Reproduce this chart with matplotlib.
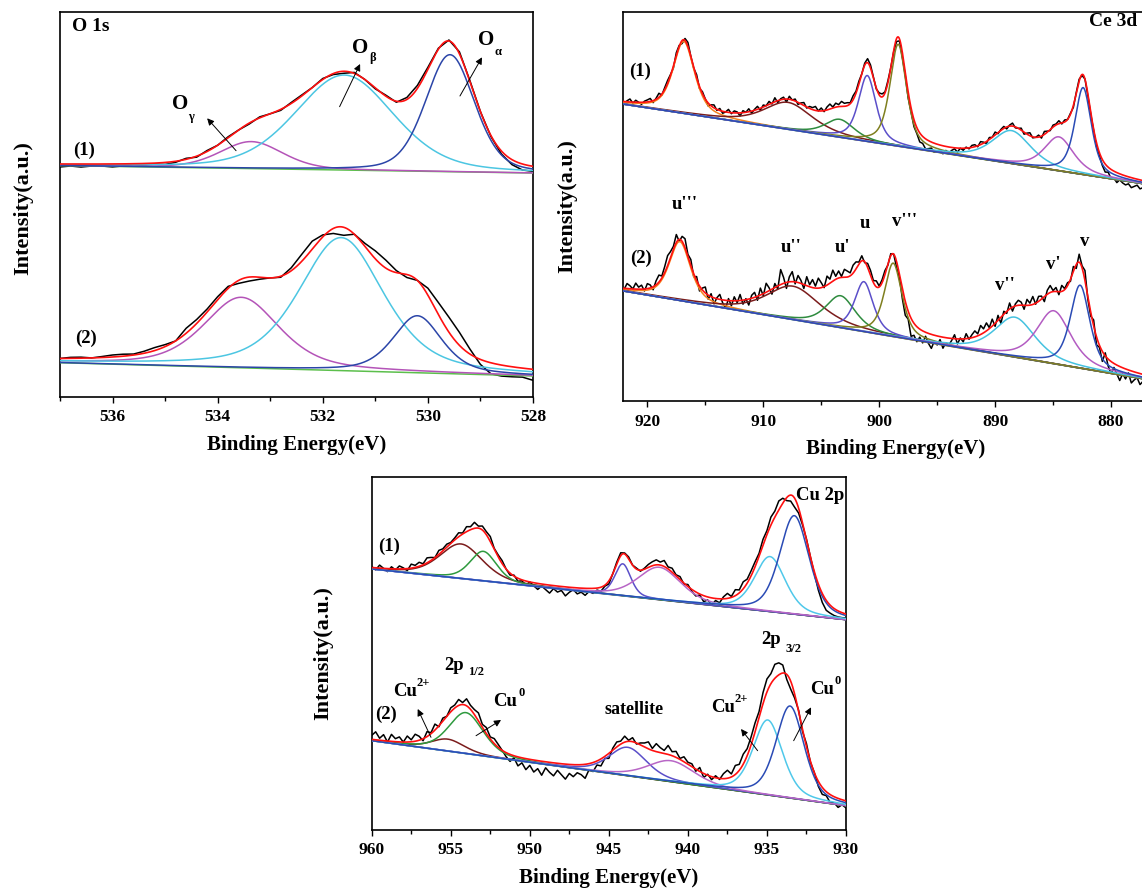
import numpy as np
import matplotlib
matplotlib.use('Agg')
import matplotlib.pyplot as plt

plt.rcParams['font.family'] = ['Liberation Serif', 'DejaVu Serif']
plt.rcParams['font.weight'] = 'bold'
plt.rcParams['axes.labelweight'] = 'bold'

# ---------------- O 1s ----------------
o1_lim = (537.0, 528.0)
o1_base1 = (231.4, 224.0)      # baseline at 537 and 528 eV
o1_base2 = (34.3, 21.0)
o1_names = ['O_gamma', 'O_beta', 'O_alpha']
o1_pos1 = [533.36, 531.59, 529.58]
o1_h1 = [27, 95, 117]
o1_fw1 = [1.4, 2.2, 1.1]
o1_pos2 = [533.55, 531.65, 530.20]
o1_h2 = [70.5, 133, 57]
o1_fw2 = [1.7, 1.9, 1.1]
o1_step = 0.2
o1_res1 = [-3, -2, -3, -2, -2, -3, -2, -1, -2, -1, -2,
           -1, 1, -1, 1, 0,
           1, 0, -1, 1, 0, -1, 1,
           1, 0, 1, -1, -2, 1, 0,
           -1, 1, -1, 2, 3, 2, 1, 1,
           2, 1, 0, -1, -3, -5, -6, -5]
o1_res2 = [0, 1, 1, 0, 1, 2, 2, 1, 2, 3, 2,
           0, 5, 4, 3, 3,
           2, -3, -4, -2, 0, -1, 3,
           7, 8, 2, -5, -8, 0, 3,
           8, 8, 2, -3, 0, 7, 12, 15,
           13, 5, -5, -11, -11, -10, -9, -11]

# ---------------- Ce 3d ----------------
ce_lim = (922.1, 875.0)
ce_base1 = (298.5, 213.3)      # baseline at 922 and 875 eV
ce_base2 = (111.8, 17.8)
ce_names = ["u'''", "u''", "u'", "u", "v'''", "v''", "v'", "v"]
ce_pos1 = [916.86, 907.87, 903.41, 901.03, 898.36, 888.59, 884.50, 882.41]
ce_h1 = [72, 27, 18, 66, 102, 33, 34, 87]
ce_fw1 = [2.2, 5.0, 3.0, 1.8, 1.7, 4.0, 3.0, 1.7]
ce_pos2 = [917.20, 907.44, 903.33, 901.32, 898.79, 888.30, 884.94, 882.67]
ce_h2 = [59, 33.5, 32, 50, 73.5, 40, 53, 83]
ce_fw2 = [2.2, 5.5, 3.0, 1.9, 1.8, 4.2, 3.5, 2.0]
ce_step = 0.25
ce_res1 = [2, -1, 3, 0, -2, 1, 3, -1, 2, 0, -2, 1, 2,
           3, -2, 1, 4, -1, 2, 3, 1,
           -2, 3, 1, -3, 2, 4, 0, -1,
           3, -2, 2, 0, -3, 1, 3, -1, 2, -2, 0, 3, -1, 2, 1, -3, 2, 0, 3, -2,
           1, 3, -2, 2, 0, 3, -1, 4, -2, 1, 2, -3, 3, 0, 2, -2, 1, 3, -1, 2,
           2, 4, 0, 3, -1, 3, 5, 1, 4, 2, 5, 3,
           3, 1, 4, 2, 3, 0, 2, 4,
           3, 1, -1, 2, 3, 1, 2, 0,
           -1, -3, -2, -5, -3, -6, -4, -7,
           -6, -9, -7, -10, -8, -6, -9, -7, -5, -8, -4, -6,
           -3, -1, -4, 0, -2, 1, -1, 2,
           2, -1, 3, 1, -2, 2, 0, 3, -1, 1, 2, -2, 1, 3, -1, 0,
           2, -2, 1, 3, -1, 0, 2, -2, 3, 1, -1, 2,
           1, 3, -1, 2, 0, 1, -2, 1, 2, -1, 0, -2,
           -2, -1, -4, -3, -6, -8, -5, -9, -7, -10, -6, -8,
           -9, -7, -10, -8, -6, -9, -7, -8, -10, -7, -9, -8]
ce_res2 = [4, 1, 6, 2, -1, 5, 3, 0, 6, 2, 4, -2, 5,
           3, -3, 4, 7, 2, 6, 10, 6,
           3, 8, -2, 5, 9, 2, 6, -3,
           4, -5, 2, 6, -4, 3, -6, 1, 5, -3, -8, 2, -5, 4, -2, 6, -4, 1, -6, 3,
           5, -4, 7, -2, 9, 3, -5, 4, -3, 15, 6, -6, 5, 10, -2, 7, 3, -4, 9, 2,
           8, 2, 10, 5, -1, 9, 4, 11, 3, 7, 1, 8,
           6, 3, 8, 7, 2, 5, -1, 4,
           5, 2, 6, 1, 3, 4, -1, 2,
           0, -6, -3, -10, -14, -8, -18, -12,
           -15, -8, -12, -4, -10, -14, -6, -9, -3, -11, -5, -7,
           -2, 4, -5, 1, -3, 5, -1, 3,
           6, 2, 9, 4, 8, 1, 7, -3, 5, -6, 3, -2, 6, -4, 2, 5,
           3, -4, 6, 2, 8, -1, 5, 3, -5, 4, 7, 1,
           4, -3, 6, 1, 3, -2, 5, -4, 8, 2, 10, -3,
           -4, 6, -8, -2, -10, 3, -7, -12, -4, -9, -14, -6,
           -10, -3, -12, -8, -5, -11, -7, -9, -13, -6, -10, -8]

# ---------------- Cu 2p ----------------
cu_lim = (960.0, 930.0)
cu_base1 = (261.0, 210.3)      # baseline at 960 and 930 eV
cu_base2 = (89.3, 24.3)
cu_pos1 = [954.35, 952.94, 944.12, 941.81, 934.81, 933.27]
cu_h1 = [34.6, 29.6, 32, 32.5, 55, 98.5]
cu_fw1 = [3.2, 2.0, 1.2, 3.2, 2.3, 2.2]
cu_pos2 = [955.19, 954.04, 943.81, 941.07, 934.95, 933.54]
cu_h2 = [12, 41, 28.5, 21, 75, 92]
cu_fw2 = [2.5, 2.6, 2.8, 3.5, 2.2, 2.1]
cu_step = 0.25
cu_res1 = [1, -2, 3, 0, -3, 2, -1, 3, 1, -2, 4, 2,
           4, 1, 5, 3, 0, 4, 2, 3, 1,
           2, 4, 1, 5, 3, 6, 2, 4, 3, 5, 1, 2,
           3, 0, -2, 1, -3, -1, -4, 0,
           -3, -6, -2, -5, -8, -3, -6, -4, -9, -5, -2, -6, -4, -7, -3, -5, -2, -4, -1, -3,
           0, 2, 3, 1, 2, 0, 1, -1,
           1, 3, 4, 5, 3, 6, 2, 4, 1, 3, -1, 2,
           -2, -4, -1, -6, -3, -7, -2, -4,
           2, 5, 1, 6, 3, 7, 4, 5,
           5, 3, 6, 4, 8, 6, 9, 5,
           -3, -6, -9, -5, -2, 1, 0, -2,
           -6, -9, -10, -8, -7, -6, -5, -4]
cu_res2 = [4, 8, 2, 6, -1, 7, 3, 5, 0, 6, 2, 7,
           4, -2, 5, 1, 6, -1, 3, 0, 4,
           3, 6, 2, 7, 4, 5, 8, 3, 6, 2, 5, 3,
           0, -4, -7, -2, -9, -5, -11, -6,
           -12, -8, -14, -6, -10, -13, -7, -11, -15, -9, -12, -8, -10, -14, -6, -9, -4, -7, -2, -5,
           2, 5, 3, 6, 1, 4, -1, 2,
           4, 7, 2, 8, 5, 3, 9, 4, 6, 1, 5, 2,
           3, -2, 4, -4, 1, -3, 2, -1,
           5, 8, 3, 9, 6, 10, 7, 8,
           9, 6, 11, 13, 10, 14, 12, 8,
           -5, -8, -4, 1, -2, 3, -1, 0,
           -5, -7, -4, -8, -6, -9, -5, -7]

o1_cols = ['#b454b8', '#4cc6e2', '#2b45a8']
ce_cols = ['#f5821f', '#7b1c1c', '#2e8b3e', '#5b4fc9', '#7f7f1f', '#45c2e0', '#b35cc2', '#2a4bb5']
cu_cols = ['#7b1c1c', '#2e9a3e', '#5b4fc9', '#b866c6', '#4fc8ea', '#2a4bb5']


def pv(e, c, h, w, eta):
    x = (e - c) / (w / 2.0)
    return h * (eta / (1 + x ** 2) + (1 - eta) * np.exp(-np.log(2) * x ** 2))


def spectrum(ax, lim, base, pos, hts, fws, eta, cols, res, step, bcol):
    e0, e1 = lim[0], lim[1]
    ef = np.linspace(max(e0, e1), min(e0, e1), 800)
    hi, lo = np.ceil(max(e0, e1)), np.floor(min(e0, e1))

    def bl(e):
        return base[0] + (base[1] - base[0]) * (hi - e) / (hi - lo)
    ed = hi - step * np.arange(len(res))
    env_d = bl(ed) + sum(pv(ed, c, h, w, eta) for c, h, w in zip(pos, hts, fws))
    ax.plot(ed, env_d + np.array(res), color='black', lw=1.1, zorder=2)
    ax.plot(ef, bl(ef), color=bcol, lw=1.1, zorder=3)
    for c, h, w, col in zip(pos, hts, fws, cols):
        ax.plot(ef, bl(ef) + pv(ef, c, h, w, eta), color=col, lw=1.1, zorder=3)
    env = bl(ef) + sum(pv(ef, c, h, w, eta) for c, h, w in zip(pos, hts, fws))
    ax.plot(ef, env, color='#ff1010', lw=1.2, zorder=4)


def style(ax, lim, ytop, major, minor):
    ax.set_xlim(*lim)
    ax.set_ylim(0, ytop)
    ax.set_yticks([])
    ax.set_xticks(np.arange(np.ceil(min(lim) / major) * major, max(lim) + 0.01, major))
    ax.set_xticks(np.arange(np.ceil(min(lim) / minor) * minor, max(lim) + 0.01, minor), minor=True)
    ax.tick_params(axis='x', which='major', direction='out', length=4, width=1, labelsize=12.5, pad=5)
    ax.tick_params(axis='x', which='minor', direction='out', length=3, width=1)
    for lab in ax.get_xticklabels():
        lab.set_fontweight('bold')
    for s in ax.spines.values():
        s.set_linewidth(1.2)
    ax.set_xlabel('Binding Energy(eV)', fontsize=15, fontweight='bold', labelpad=7)
    ax.set_ylabel('Intensity(a.u.)', fontsize=16, fontweight='bold')


def txt(ax, x, y, s, size=13.5, ha='center'):
    ax.text(x, y, s, fontsize=size, fontweight='bold', ha=ha, va='center', zorder=6)


def arrow(ax, tail, head):
    ax.annotate('', xy=head, xytext=tail,
                arrowprops=dict(arrowstyle='-|>', color='black', lw=0.7,
                                mutation_scale=10, shrinkA=0, shrinkB=0), zorder=6)


fig = plt.figure(figsize=(11.42, 8.89), dpi=100)

# O 1s panel
ax1 = fig.add_axes([60 / 1142, 1 - 397 / 889, 473 / 1142, 385 / 889])
spectrum(ax1, o1_lim, o1_base1, o1_pos1, o1_h1, o1_fw1, 0.3, o1_cols, o1_res1, o1_step, '#5cbf4c')
spectrum(ax1, o1_lim, o1_base2, o1_pos2, o1_h2, o1_fw2, 0.5, o1_cols, o1_res2, o1_step, '#5cbf4c')
style(ax1, o1_lim, 385, 2, 1)
ax1.yaxis.set_label_coords(-0.057, 0.49)
txt(ax1, 536.77, 370.3, 'O 1s', 14, ha='left')
txt(ax1, 536.54, 247, '(1)')
txt(ax1, 536.50, 59, '(2)')
txt(ax1, 534.72, 293, 'O', 15)
txt(ax1, 534.50, 280, '\u03b3', 9)
txt(ax1, 531.28, 348.7, 'O', 15)
txt(ax1, 531.06, 339, '\u03b2', 9)
txt(ax1, 528.89, 357, 'O', 15)
txt(ax1, 528.66, 345.3, '\u03b1', 9)
arrow(ax1, (533.65, 246.3), (534.20, 278.7))
arrow(ax1, (531.68, 290.3), (531.29, 333.0))
arrow(ax1, (529.39, 301.0), (528.97, 339.7))

# Ce 3d panel (the source figure is cropped on the right)
ax2 = fig.add_axes([623 / 1142, 1 - 401 / 889, 546 / 1142, 389 / 889])
spectrum(ax2, ce_lim, ce_base1, ce_pos1, ce_h1, ce_fw1, 0.6, ce_cols, ce_res1, ce_step, '#2a8a3a')
spectrum(ax2, ce_lim, ce_base2, ce_pos2, ce_h2, ce_fw2, 0.6, ce_cols, ce_res2, ce_step, '#2a8a3a')
style(ax2, ce_lim, 389, 10, 5)
ax2.yaxis.set_label_coords(-0.084, 0.5)
txt(ax2, 881.9, 379.0, 'Ce 3d', 14, ha='left')
txt(ax2, 920.59, 330, '(1)')
txt(ax2, 920.59, 143, '(2)')
ce_lab_x = [916.78, 907.61, 903.13, 901.26, 897.78, 889.16, 885.02, 882.27]
ce_lab_y = [196.3, 153, 154, 178, 180, 115, 136.3, 159.7]
for nm, lx, ly in zip(ce_names, ce_lab_x, ce_lab_y):
    txt(ax2, lx, ly, nm)

# Cu 2p panel
ax3 = fig.add_axes([371.7 / 1142, 1 - 830 / 889, 474.3 / 1142, 353 / 889])
spectrum(ax3, cu_lim, cu_base1, cu_pos1, cu_h1, cu_fw1, 0.4, cu_cols, cu_res1, cu_step, '#6b2d86')
spectrum(ax3, cu_lim, cu_base2, cu_pos2, cu_h2, cu_fw2, 0.4, cu_cols, cu_res2, cu_step, '#3a9a3a')
style(ax3, cu_lim, 353, 5, 2.5)
ax3.yaxis.set_label_coords(-0.082, 0.5)
txt(ax3, 931.64, 334.3, 'Cu 2p')
txt(ax3, 958.91, 283.3, '(1)')
txt(ax3, 959.10, 116, '(2)')
txt(ax3, 954.78, 164.3, '2p')
txt(ax3, 953.40, 157.7, '1/2', 9)
txt(ax3, 934.74, 190, '2p')
txt(ax3, 933.32, 181, '3/2', 9)
txt(ax3, 957.88, 138, 'Cu')
txt(ax3, 956.76, 147, '2+', 9)
txt(ax3, 951.57, 128, 'Cu')
txt(ax3, 950.49, 137, '0', 9)
txt(ax3, 943.41, 121, 'satellite', 13)
txt(ax3, 937.78, 122, 'Cu')
txt(ax3, 936.64, 131, '2+', 9)
txt(ax3, 931.52, 140, 'Cu')
txt(ax3, 930.51, 149, '0', 9)
arrow(ax3, (956.25, 92.7), (957.09, 121))
arrow(ax3, (953.40, 94.3), (951.82, 110))
arrow(ax3, (935.59, 79.3), (936.64, 101))
arrow(ax3, (933.31, 89.3), (932.21, 122.7))

fig.savefig('out.png', dpi=100)
